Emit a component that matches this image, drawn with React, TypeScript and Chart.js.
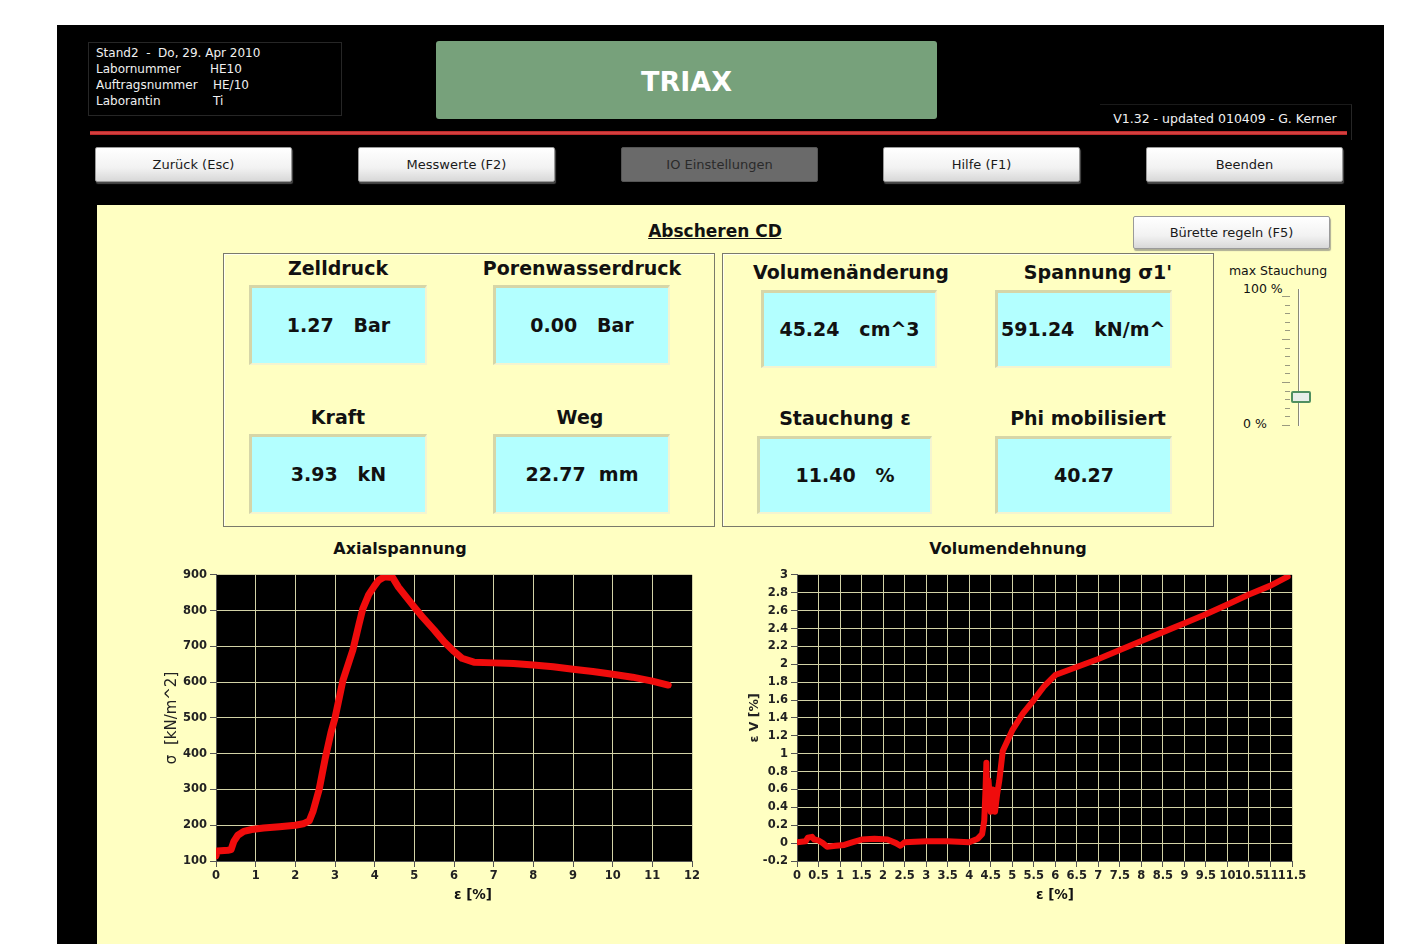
import React, { useEffect, useRef } from 'react';
import { Chart, registerables } from 'chart.js';

Chart.register(...registerables);

// ---------- data ----------
const axialStrain = [0, 0.03, 0.3, 0.38, 0.45, 0.55, 0.7, 0.9, 1.2, 1.6, 2.0, 2.2, 2.35, 2.45, 2.6, 2.75, 2.9, 3.0, 3.2, 3.45, 3.6, 3.7, 3.85, 4.0, 4.1, 4.25, 4.45, 4.6, 4.8, 5.0, 5.2, 5.5, 5.75, 6.0, 6.2, 6.5, 7.0, 7.5, 8.0, 8.5, 9.0, 9.5, 10.0, 10.5, 11.0, 11.4];
const axialStress = [115, 128, 130, 132, 155, 172, 183, 188, 192, 196, 200, 204, 212, 240, 300, 385, 460, 500, 605, 690, 760, 805, 845, 870, 885, 895, 893, 866, 838, 810, 783, 746, 713, 686, 667, 656, 654, 652, 648, 643, 636, 630, 622, 614, 603, 592];

const volStrainX = [0, 0.2, 0.25, 0.35, 0.4, 0.5, 0.6, 0.7, 0.9, 1.1, 1.3, 1.5, 1.8, 2.1, 2.3, 2.4, 2.5, 3.0, 3.5, 4.0, 4.2, 4.3, 4.35, 4.38, 4.4, 4.42, 4.45, 4.5, 4.55, 4.6, 4.65, 4.7, 4.78, 5.0, 5.25, 5.5, 5.75, 6.0, 6.5, 7.0, 7.5, 8.0, 8.5, 9.0, 9.5, 10.0, 10.5, 11.0, 11.4];
const volStrainY = [0.01, 0.02, 0.06, 0.07, 0.04, 0.03, 0.0, -0.04, -0.03, -0.02, 0.01, 0.04, 0.05, 0.04, 0.0, -0.03, 0.01, 0.02, 0.02, 0.01, 0.05, 0.1, 0.25, 0.6, 0.9, 0.4, 0.7, 0.35, 0.6, 0.35, 0.55, 0.7, 1.03, 1.26, 1.45, 1.6, 1.76, 1.88, 1.97, 2.06, 2.16, 2.26, 2.36, 2.46, 2.56, 2.67, 2.78, 2.88, 2.98];

const axialXTicks = { min: 0, max: 12, step: 1 };
const axialYTicks = { min: 100, max: 900, step: 100 };
const volXTicks = { min: 0, max: 11.5, step: 0.5 };
const volYTicks = { min: -0.2, max: 3, step: 0.2 };

const infoLines = [
  ['Stand2  -  Do, 29. Apr 2010', ''],
  ['Labornummer', 'HE10'],
  ['Auftragsnummer', 'HE/10'],
  ['Laborantin', 'Ti'],
];
const navButtons = ['Zurück (Esc)', 'Messwerte (F2)', 'IO Einstellungen', 'Hilfe (F1)', 'Beenden'];

const FONT = "'DejaVu Sans', Verdana, sans-serif";

const plotBg = {
  id: 'plotBg',
  beforeDraw(chart: any) {
    const { ctx, chartArea } = chart;
    ctx.save();
    ctx.fillStyle = '#000';
    ctx.fillRect(chartArea.left, chartArea.top, chartArea.width, chartArea.height);
    ctx.restore();
  },
};

const fmt = (v: any) => String(Number(Number(v).toFixed(1)));

function LineChart(props: {
  xs: number[]; ys: number[]; xt: any; yt: any; yTitle: string; yTitleFont: number; yTitleWeight: string; yTitlePad: number;
  yWidth: number; padRight: number; w: number; h: number; lineWidth: number;
}) {
  const ref = useRef<HTMLCanvasElement>(null);
  useEffect(() => {
    const data = props.xs.map((x, i) => ({ x, y: props.ys[i] }));
    const tickFont = { family: FONT, size: 11.5, weight: 'bold' as const };
    const chart = new Chart(ref.current!, {
      type: 'line',
      data: {
        datasets: [{
          data,
          borderColor: '#f00c0c',
          borderWidth: props.lineWidth,
          pointRadius: 0,
          tension: 0,
          borderJoinStyle: 'round',
          borderCapStyle: 'round',
        }],
      },
      options: {
        responsive: false,
        animation: false,
        layout: { padding: { top: 8, right: props.padRight, left: 0, bottom: 0 } },
        plugins: { legend: { display: false }, tooltip: { enabled: false } },
        scales: {
          x: {
            type: 'linear',
            min: props.xt.min, max: props.xt.max,
            afterFit: (s: any) => { s.height = 49; },
            ticks: { stepSize: props.xt.step, autoSkip: false, maxRotation: 0, minRotation: 0, color: '#222', font: tickFont, padding: 2, callback: fmt },
            grid: { color: '#d2d2a6', tickColor: '#555', tickLength: 6, lineWidth: 1 },
            border: { color: '#555' },
            title: { display: false },
          },
          y: {
            type: 'linear',
            min: props.yt.min, max: props.yt.max,
            afterFit: (s: any) => { s.width = props.yWidth; },
            ticks: { stepSize: props.yt.step, autoSkip: false, color: '#222', font: tickFont, padding: 3, callback: fmt },
            grid: { color: '#d2d2a6', tickColor: '#555', tickLength: 6, lineWidth: 1 },
            border: { color: '#555' },
            title: { display: true, text: props.yTitle, color: '#222', font: { family: FONT, size: props.yTitleFont, weight: props.yTitleWeight as any }, padding: { top: props.yTitlePad, bottom: 0 } },
          },
        },
      },
      plugins: [plotBg],
    });
    return () => chart.destroy();
  }, []);
  return <canvas ref={ref} width={props.w} height={props.h} style={{ width: props.w, height: props.h, display: 'block' }} />;
}

const abs = (x: number, y: number, w: number, h: number, extra: any = {}) => ({
  position: 'absolute' as const, left: x, top: y, width: w, height: h, boxSizing: 'border-box' as const, ...extra,
});

function CenterText(p: { x: number; y: number; w: number; h: number; size: number; bold?: boolean; color?: string; children: any; align?: string; extra?: any }) {
  return (
    <div style={abs(p.x, p.y, p.w, p.h, {
      fontFamily: FONT, fontSize: p.size, fontWeight: p.bold ? 'bold' : 'normal', color: p.color || '#111',
      lineHeight: p.h + 'px', textAlign: p.align || 'center', whiteSpace: 'pre', overflow: 'hidden', ...(p.extra || {}),
    })}>{p.children}</div>
  );
}

function Button(p: { x: number; y: number; w: number; h: number; label: string; dark?: boolean; size?: number }) {
  return (
    <div style={abs(p.x, p.y, p.w, p.h, {
      background: p.dark ? '#6a6a6a' : 'linear-gradient(#ffffff, #f2f2f2 60%, #d8d8d8)',
      border: p.dark ? '1px solid #555' : '1px solid #9a9a9a',
      boxShadow: p.dark ? 'none' : '1px 2px 1px rgba(120,120,120,0.6)',
      borderRadius: 2,
      fontFamily: FONT, fontSize: p.size || 13, color: p.dark ? '#2a2a2a' : '#1a1a1a',
      lineHeight: (p.h - 2) + 'px', textAlign: 'center',
    })}>{p.label}</div>
  );
}

function ValueBox(p: { x: number; y: number; w: number; h: number; text: string; align?: string; padLeft?: number }) {
  return (
    <div style={abs(p.x, p.y, p.w, p.h, {
      background: '#b3ffff',
      borderTop: '3px solid #d6d6a8', borderLeft: '3px solid #d6d6a8',
      borderBottom: '2px solid #f4f4d0', borderRight: '2px solid #f4f4d0',
      fontFamily: FONT, fontSize: 19, fontWeight: 'bold', color: '#111',
      lineHeight: (p.h - 5) + 'px', textAlign: p.align || 'center', whiteSpace: 'pre', overflow: 'hidden',
      paddingLeft: p.padLeft || 0,
    })}>{p.text}</div>
  );
}

export default function App() {
  const btnX = [95, 358, 621, 883, 1146];
  const sliderTicks = [];
  for (let i = 0; i <= 15; i++) {
    const y = 296 + i * 8.6;
    const major = i % 5 === 0 || i === 15;
    sliderTicks.push(<div key={i} style={abs(major ? 1282 : 1285, y, major ? 8 : 5, 1, { background: '#9a9a80' })} />);
  }
  return (
    <div style={{ position: 'absolute', left: 0, top: 0, width: 1414, height: 944, background: '#fff', overflow: 'hidden' }}>
      {/* black frame */}
      <div style={abs(57, 25, 1327, 919, { background: '#000' })} />

      {/* info box */}
      <div style={abs(88, 42, 254, 74, { border: '1px solid #262626' })} />
      {infoLines.map((l, i) => (
        <React.Fragment key={i}>
          <div style={abs(96, 45 + i * 16, 240, 16, { fontFamily: FONT, fontSize: 12, color: '#f0f0f0', lineHeight: '16px', whiteSpace: 'pre' })}>{l[0]}</div>
          {l[1] ? <div style={abs(i === 1 ? 210 : 213, 45 + i * 16, 80, 16, { fontFamily: FONT, fontSize: 12, color: '#f0f0f0', lineHeight: '16px' })}>{l[1]}</div> : null}
        </React.Fragment>
      ))}

      {/* title */}
      <div style={abs(436, 41, 501, 78, { background: '#77a17b', borderRadius: 3, color: '#fff', fontFamily: FONT, fontWeight: 'bold', fontSize: 27, lineHeight: '82px', textAlign: 'center' })}>TRIAX</div>

      {/* version */}
      <div style={abs(1100, 104, 252, 36, { borderRight: '1px solid #262626', borderTop: '1px solid #1a1a1a' })} />
      <CenterText x={1100} y={110} w={250} h={18} size={12.5} color="#f2f2f2">V1.32 - updated 010409 - G. Kerner</CenterText>

      {/* red line */}
      <div style={abs(90, 131, 1257, 4, { background: 'linear-gradient(#b02020, #e04a4a, #b02020)' })} />

      {/* nav buttons */}
      {navButtons.map((b, i) => (
        <Button key={b} x={btnX[i]} y={147} w={197} h={35} label={b} dark={i === 2} />
      ))}

      {/* yellow panel */}
      <div style={abs(97, 205, 1248, 739, { background: '#ffffc2' })} />

      <CenterText x={600} y={218} w={230} h={26} size={17} bold extra={{ textDecoration: 'underline' }}>Abscheren CD</CenterText>
      <Button x={1133} y={216} w={197} h={33} label="Bürette regeln (F5)" />

      {/* group boxes */}
      <div style={abs(223, 253, 492, 274, { border: '1px solid #7a7a6a', boxShadow: 'inset 1px 1px 0 #fffff0' })} />
      <div style={abs(722, 253, 492, 274, { border: '1px solid #7a7a6a', boxShadow: 'inset 1px 1px 0 #fffff0' })} />

      <CenterText x={238} y={255} w={200} h={26} size={19} bold>Zelldruck</CenterText>
      <CenterText x={462} y={255} w={240} h={26} size={19} bold>Porenwasserdruck</CenterText>
      <ValueBox x={249} y={285} w={178} h={80} text={'1.27   Bar'} />
      <ValueBox x={493} y={285} w={177} h={80} text={'0.00   Bar'} />
      <CenterText x={238} y={404} w={200} h={26} size={19} bold>Kraft</CenterText>
      <CenterText x={480} y={404} w={200} h={26} size={19} bold>Weg</CenterText>
      <ValueBox x={249} y={434} w={178} h={80} text={'3.93   kN'} />
      <ValueBox x={493} y={434} w={177} h={80} text={'22.77  mm'} />

      <CenterText x={731} y={259} w={240} h={26} size={19} bold>Volumenänderung</CenterText>
      <CenterText x={978} y={259} w={240} h={26} size={19} bold>{"Spannung σ1'"}</CenterText>
      <ValueBox x={761} y={290} w={176} h={78} text={'45.24   cm^3'} />
      <ValueBox x={995} y={290} w={177} h={78} text={'591.24   kN/m^'} align="left" padLeft={3} />
      <CenterText x={745} y={405} w={200} h={26} size={19} bold>Stauchung ε</CenterText>
      <CenterText x={968} y={405} w={240} h={26} size={19} bold>Phi mobilisiert</CenterText>
      <ValueBox x={757} y={436} w={175} h={78} text={'11.40   %'} />
      <ValueBox x={995} y={436} w={177} h={78} text={'40.27'} />

      {/* slider */}
      <CenterText x={1218} y={262} w={120} h={18} size={12.5}>max Stauchung</CenterText>
      <CenterText x={1236} y={280} w={60} h={18} size={12.5} align="left" extra={{ paddingLeft: 7 }}>100 %</CenterText>
      <CenterText x={1236} y={415} w={60} h={18} size={12.5} align="left" extra={{ paddingLeft: 7 }}>0 %</CenterText>
      <div style={abs(1298, 289, 1, 137, { background: '#8a8a78' })} />
      <div style={abs(1299, 289, 1, 137, { background: '#fffff0' })} />
      {sliderTicks}
      <div style={abs(1291, 391, 20, 12, { background: '#e8eee8', border: '2px solid #4f8f5f', borderRadius: 2 })} />

      {/* chart titles */}
      <CenterText x={300} y={537} w={200} h={24} size={16} bold>Axialspannung</CenterText>
      <CenterText x={898} y={537} w={220} h={24} size={16} bold>Volumendehnung</CenterText>

      <div style={abs(150, 565, 560, 345)}>
        <LineChart xs={axialStrain} ys={axialStress} xt={axialXTicks} yt={axialYTicks}
          yTitle={'σ  [kN/m^2]'} yTitleFont={15} yTitleWeight="normal" yTitlePad={13} yWidth={66} padRight={18} w={560} h={345} lineWidth={7} />
      </div>
      <div style={abs(740, 565, 580, 345)}>
        <LineChart xs={volStrainX} ys={volStrainY} xt={volXTicks} yt={volYTicks}
          yTitle={'ε V [%]'} yTitleFont={12.5} yTitleWeight="bold" yTitlePad={7} yWidth={57} padRight={28} w={580} h={345} lineWidth={6} />
      </div>

      {/* x-axis titles */}
      <CenterText x={423} y={884} w={100} h={20} size={13.5} bold>ε [%]</CenterText>
      <CenterText x={1005} y={884} w={100} h={20} size={13.5} bold>ε [%]</CenterText>
    </div>
  );
}
